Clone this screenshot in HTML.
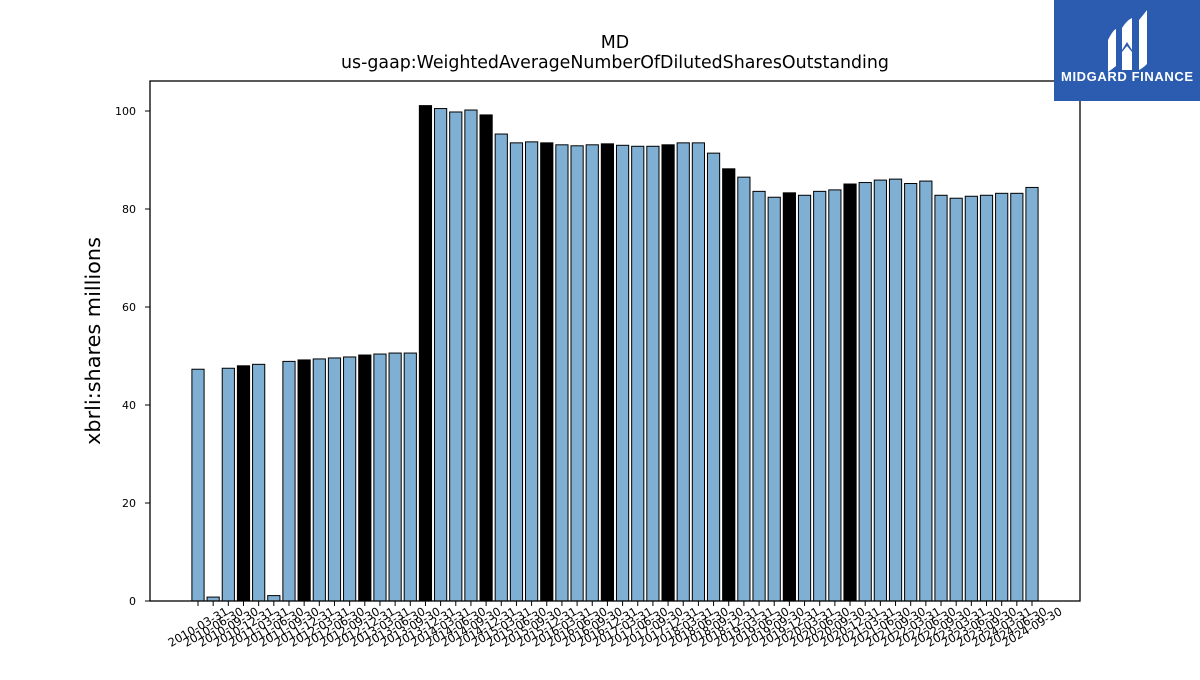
<!DOCTYPE html>
<html><head><meta charset="utf-8"><style>
body{margin:0;background:#fff;width:1200px;height:675px;overflow:hidden;font-family:"Liberation Sans","DejaVu Sans",sans-serif}
</style></head><body>
<svg id="chart" width="1200" height="675" xmlns="http://www.w3.org/2000/svg" font-family="DejaVu Sans, Liberation Sans, sans-serif">
<text x="615" y="48" text-anchor="middle" font-size="17.4">MD</text>
<text x="615" y="68" text-anchor="middle" font-size="17.4">us-gaap:WeightedAverageNumberOfDilutedSharesOutstanding</text>
<text transform="translate(100,341) rotate(-90)" text-anchor="middle" font-size="20.8">xbrli:shares millions</text>
<g id="bars"></g>
<g id="yticks"></g>
<g id="xticks"></g>
<rect x="150" y="81" width="930" height="520" fill="none" stroke="#000" stroke-width="1.3"/>
<g>
<rect x="1054" y="0" width="146" height="101" fill="#2b5cb0"/>
<path d="M1108 40 Q1113 30 1116 29 L1116 66 Q1111 70 1108 72 Z" fill="#fff"/>
<path d="M1122 28 Q1127 20 1132 18 L1132 50 L1127 42 L1122 50 Z M1122 52 L1127 46 L1132 52 L1132 70 L1122 70 Z" fill="#fff"/>
<path d="M1139 20 Q1144 14 1147 10 L1147 64 Q1143 68 1139 70 Z" fill="#fff"/>
<text x="1127" y="81" text-anchor="middle" font-size="13" font-weight="bold" fill="#fff" font-family="Liberation Sans, sans-serif" textLength="132">MIDGARD FINANCE</text>
</g>
</svg>
<script>
const labels=["2010-03-31","2010-06-30","2010-09-30","2010-12-31","2011-03-31","2011-06-30","2011-09-30","2011-12-31","2012-03-31","2012-06-30","2012-09-30","2012-12-31","2013-03-31","2013-06-30","2013-09-30","2013-12-31","2014-03-31","2014-06-30","2014-09-30","2014-12-31","2015-03-31","2015-06-30","2015-09-30","2015-12-31","2016-03-31","2016-06-30","2016-09-30","2016-12-31","2017-03-31","2017-06-30","2017-09-30","2017-12-31","2018-03-31","2018-06-30","2018-09-30","2018-12-31","2019-03-31","2019-06-30","2019-09-30","2019-12-31","2020-03-31","2020-06-30","2020-09-30","2020-12-31","2021-03-31","2021-06-30","2021-09-30","2022-03-31","2022-06-30","2022-09-30","2023-03-31","2023-06-30","2023-09-30","2024-03-31","2024-06-30","2024-09-30"];
const values=[47.3,0.8,47.5,48.0,48.3,1.1,48.9,49.2,49.4,49.6,49.8,50.2,50.4,50.6,50.6,101.1,100.5,99.8,100.2,99.2,95.3,93.5,93.7,93.5,93.1,92.9,93.1,93.3,93.0,92.8,92.8,93.1,93.5,93.5,91.4,88.2,86.5,83.6,82.4,83.3,82.8,83.6,83.9,85.1,85.4,85.9,86.1,85.2,85.7,82.8,82.2,82.6,82.8,83.2,83.2,84.4];
const yTicks=[0,20,40,60,80,100];
const NS="http://www.w3.org/2000/svg";
const y0=601,yScale=4.9;
const yPos=v=>y0-v*yScale;
const x0=198,step=(1032-198)/55;
const xPos=i=>x0+i*step;
const bw=12.2;
function mk(t,a,p){const e=document.createElementNS(NS,t);for(const k in a)e.setAttribute(k,a[k]);p.appendChild(e);return e;}
const bars=document.getElementById('bars'),xt=document.getElementById('xticks'),yt=document.getElementById('yticks');
values.forEach((v,i)=>{
  const annual=labels[i].endsWith('12-31');
  const r=mk('rect',{x:xPos(i)-bw/2,y:yPos(v),width:bw,height:v*yScale,fill:annual?'#000':'#7fb0d3',stroke:'#000','stroke-width':1},bars);
  
  
  const tk=mk('line',{x1:xPos(i),x2:xPos(i),y1:601,y2:606,stroke:'#000','stroke-width':1},xt);
  
  
  const tx=mk('text',{x:0,y:4,'font-size':11.5,'text-anchor':'middle',transform:`translate(${xPos(i)},${627}) rotate(-30)`},xt);
  tx.textContent=labels[i];
  
  
});
yTicks.forEach(v=>{
  const l=mk('line',{x1:145,x2:150,y1:yPos(v),y2:yPos(v),stroke:'#000','stroke-width':1},yt);
  
  
  const t=mk('text',{x:136,y:yPos(v)+4,'font-size':11,'text-anchor':'end'},yt);
  t.textContent=v;
  
  
});
</script>
</body></html>
